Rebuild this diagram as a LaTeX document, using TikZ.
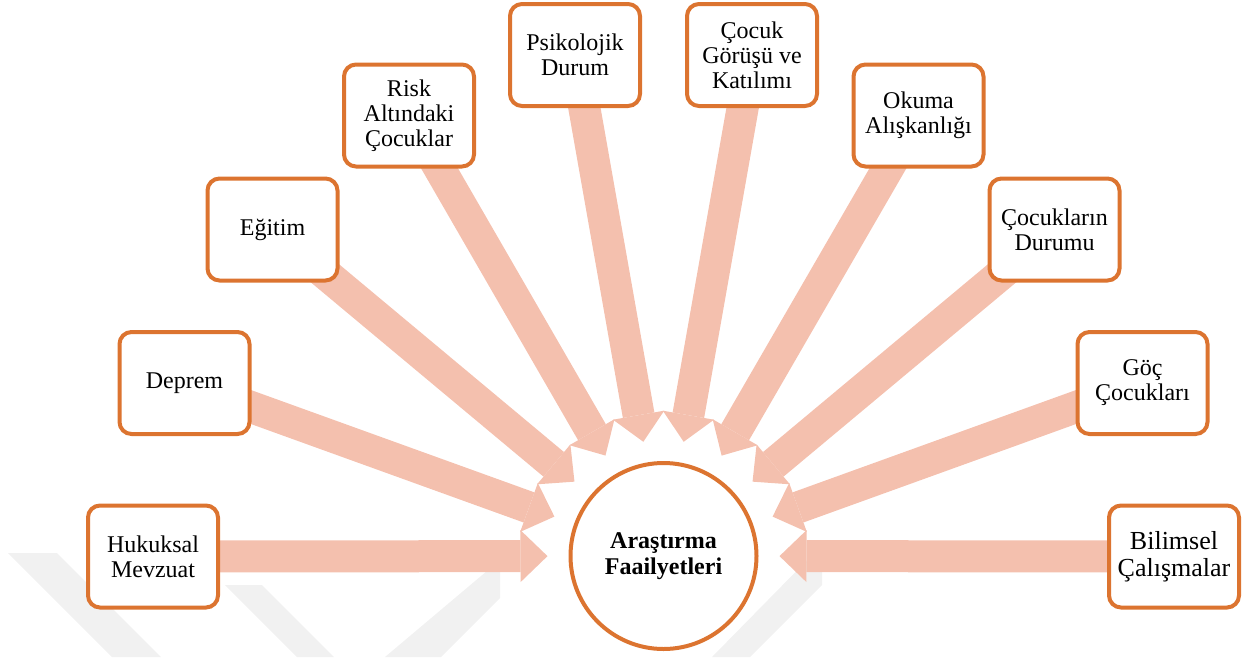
\documentclass[tikz,border=0pt]{standalone}
\usepackage{fontspec}
\setmainfont{Liberation Serif}
\usetikzlibrary{arrows.meta,calc,backgrounds}

\definecolor{boxorange}{RGB}{220,116,48}
\definecolor{arrowpink}{RGB}{244,192,174}
\definecolor{markgray}{RGB}{241,241,241}

\tikzset{
  topic/.style={draw=boxorange, line width=4pt, fill=white, rounded corners=12pt,
    minimum width=130pt, minimum height=102pt, inner sep=2pt, align=center,
    font=\fontsize{24}{25}\selectfont},
  hub/.style={circle, draw=boxorange, line width=4pt, fill=white, minimum size=186pt,
    align=center, font=\fontsize{24}{26}\selectfont\bfseries},
  feed/.style={arrowpink, line width=32pt,
    -{Triangle[width=52pt,length=27pt,line width=0pt]}},
}

\begin{document}
\begin{tikzpicture}[x=1pt,y=-1pt]

    \useasboundingbox (0,0) rectangle (1259,657);

    % centre
    \node[hub] (hub) at (663.5,556) {Araştırma\\Faailyetleri};

    % left side
    \node[topic] (hm) at (153,556.5)   {Hukuksal\\Mevzuat};
    \node[topic] (dp) at (184.5,383)   {Deprem};
    \node[topic] (eg) at (272.5,229.5) {Eğitim};
    \node[topic] (rk) at (409,115.5)   {Risk\\Altındaki\\Çocuklar};
    \node[topic] (ps) at (575,55)      {Psikolojik\\Durum};

    % right side
    \node[topic] (cg) at (752,55)      {Çocuk\\Görüşü ve\\Katılımı};
    \node[topic] (ok) at (918.5,115.5) {Okuma\\Alışkanlığı};
    \node[topic] (cd) at (1054.5,229.5) {Çocukların\\Durumu};
    \node[topic] (gc) at (1142.5,383)  {Göç\\Çocukları};
    \node[topic, font=\fontsize{26}{27}\selectfont] (bc) at (1174,556.5) {Bilimsel\\Çalışmalar};

    \begin{pgfonlayer}{background}
        % faint watermark bands
        \fill[markgray] (8,553) -- (57,553) -- (161,657) -- (112,657) -- cycle;
        \fill[markgray] (225,585) -- (262,585) -- (334,657) -- (297,657) -- cycle;
        \fill[markgray] (500,560) -- (500,598) -- (441,657) -- (385,657) -- cycle;
        \fill[markgray] (822,545) -- (822,585) -- (750,657) -- (712,657) -- cycle;

        % arrows into the centre
        \foreach \n in {hm,dp,eg,rk,ps,cg,ok,cd,gc,bc} {
            \coordinate (\n-tip) at ($(hub.center)!116pt!(\n.center)$);
            \draw[feed] (\n.center) -- (\n-tip);
        }
    \end{pgfonlayer}

\end{tikzpicture}
\end{document}
